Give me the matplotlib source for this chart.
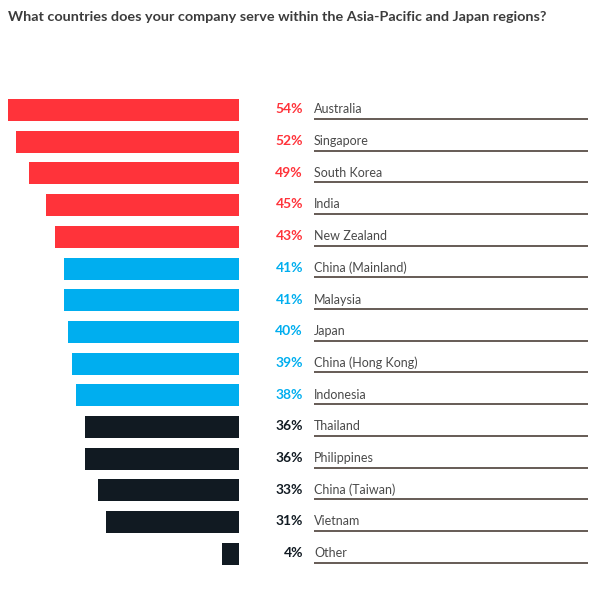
#!/usr/bin/env python3
"""Asia-Pacific and Japan countries served, leftward horizontal bars."""

import matplotlib

matplotlib.use("Agg")
import matplotlib.pyplot as plt

countries = [
    "Australia", "Singapore", "South Korea", "India", "New Zealand",
    "China (Mainland)", "Malaysia", "Japan", "China (Hong Kong)", "Indonesia",
    "Thailand", "Philippines", "China (Taiwan)", "Vietnam", "Other",
]
shares = [54, 52, 49, 45, 43, 41, 41, 40, 39, 38, 36, 36, 33, 31, 4]
groups = ["red"] * 5 + ["blue"] * 5 + ["dark"] * 5

COLORS = {"red": "#ff333a", "blue": "#00aeef", "dark": "#111a22"}

W, H, DPI = 609, 589, 100
PX = 4.28          # pixels per percentage point
X0 = 239           # pixel x where bars end
ROW = 31.7         # pixels between rows
Y0 = 110           # pixel y of first row centre

plt.rcParams["font.family"] = ["Lato", "DejaVu Sans"]

fig = plt.figure(figsize=(W / DPI, H / DPI), dpi=DPI)
ax = fig.add_axes([0, 0, 1, 1])
ax.set_xlim(-X0 / PX, (W - X0) / PX)
ax.set_ylim(len(countries) - 1 + (H - Y0 - (len(countries) - 1) * ROW) / ROW, -Y0 / ROW)
ax.axis("off")

ypos = list(range(len(countries)))
ax.barh(ypos, [-v for v in shares], height=22 / ROW,
        color=[COLORS[g] for g in groups], align="center")

pct_x = (303 - X0) / PX
name_x = (314 - X0) / PX
line_end = (588 - X0) / PX
for y, name, v, g in zip(ypos, countries, shares, groups):
    ax.text(pct_x, y - 0.02, f"{v}%", ha="right", va="center",
            fontsize=10, fontweight="bold", color=COLORS[g])
    ax.text(name_x, y - 0.02, name, ha="left", va="center",
            fontsize=9, color="#4a4a4a")
    ax.plot([name_x, line_end], [y + 0.28, y + 0.28], color="#4b4038", lw=1.2,
            solid_capstyle="butt")

fig.text(8 / W, 1 - 17 / H,
         "What countries does your company serve within the Asia-Pacific and Japan regions?",
         ha="left", va="center", fontsize=10.4, fontweight="bold", color="#3c3c3c")

fig.savefig("out.png", dpi=DPI)
